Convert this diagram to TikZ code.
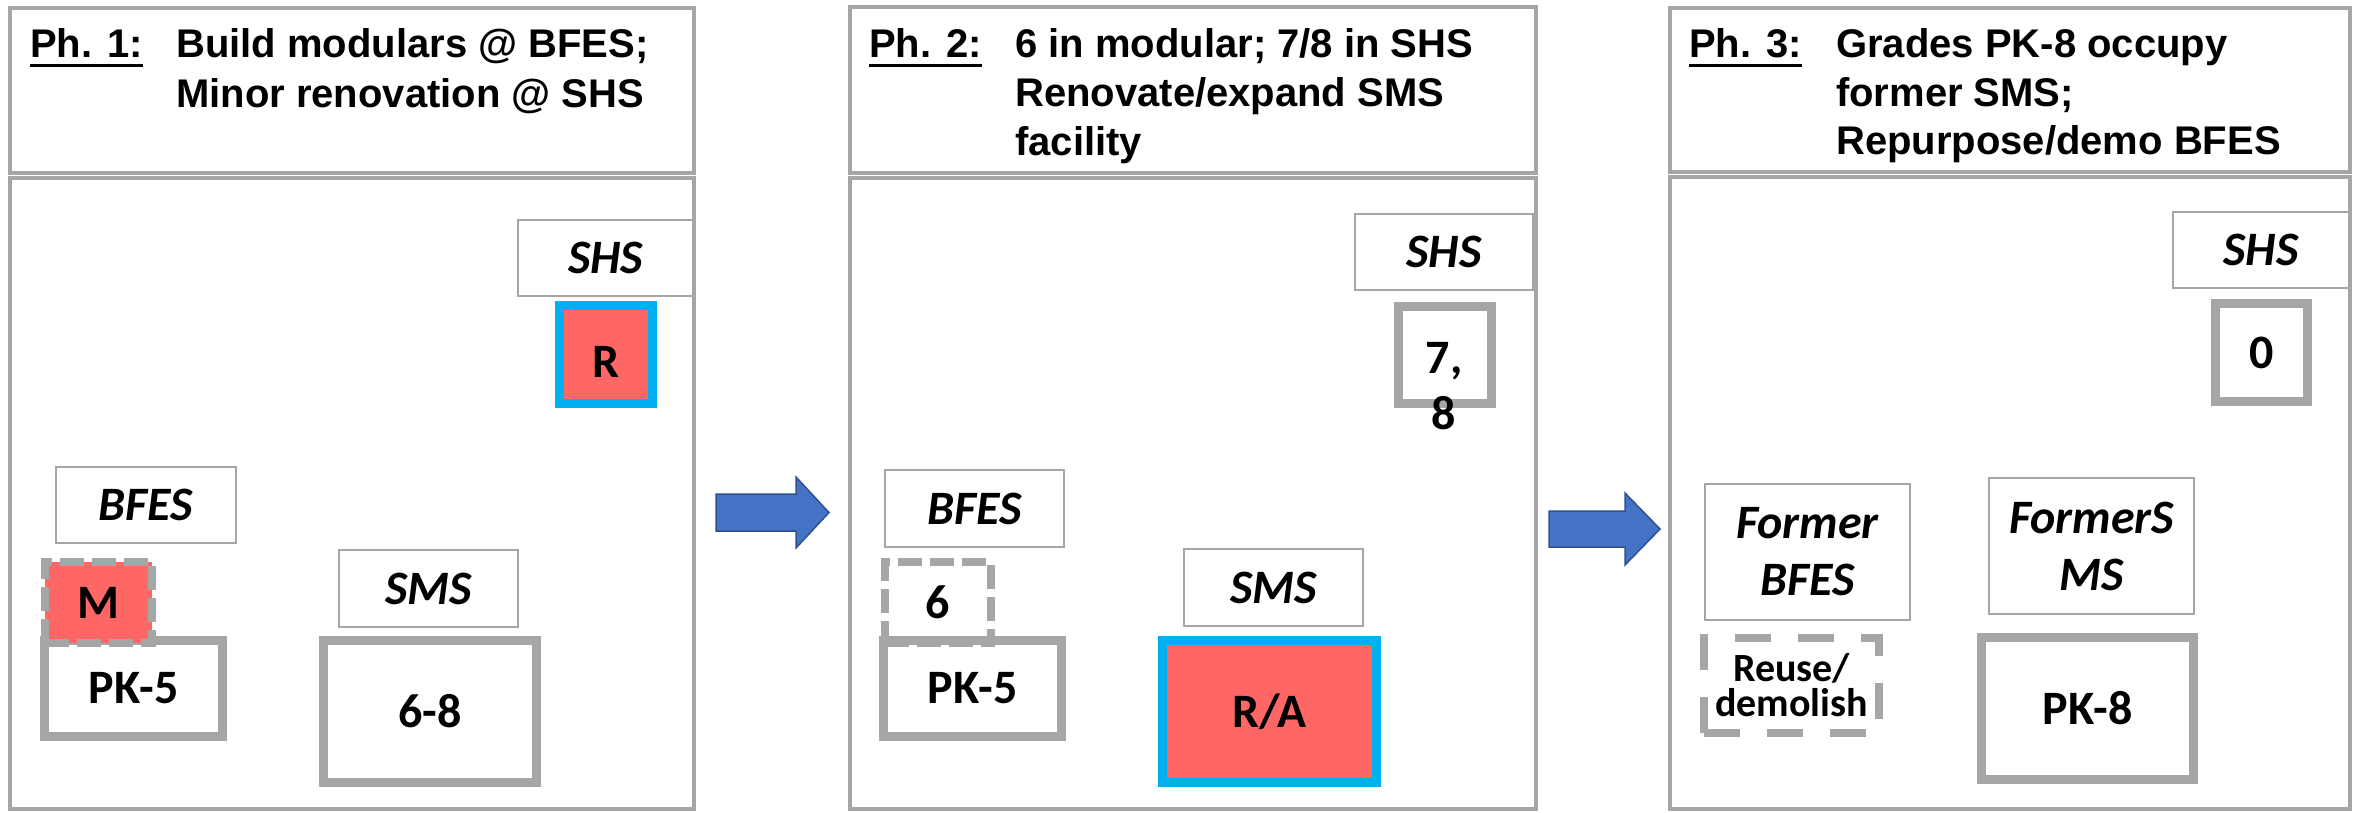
\documentclass[tikz,border=0pt]{standalone}
\usepackage{fontspec}
\setmainfont{Liberation Sans}
\newfontfamily\labfont{Carlito}
\definecolor{frame}{HTML}{A6A6A6}
\definecolor{salmon}{HTML}{FF6666}
\definecolor{cyanedge}{HTML}{00B0F0}
\definecolor{arrowfill}{HTML}{4472C4}
\definecolor{arrowedge}{HTML}{2F528F}

\begin{document}
\begin{tikzpicture}[x=1pt,y=-1pt,
  panelbox/.style={draw=frame,line width=4pt,inner sep=0pt},
  headtxt/.style={anchor=base west,inner sep=0pt,font=\fontsize{40}{50}\selectfont\bfseries},
  sitelabel/.style={draw=frame,line width=2.5pt,fill=white,inner sep=0pt,align=center,
    font=\labfont\fontsize{48}{57}\selectfont\bfseries\itshape},
  grade/.style={draw=frame,line width=9pt,fill=white,inner sep=0pt,align=center,
    font=\labfont\fontsize{48}{56}\selectfont\bfseries},
  renov/.style={grade,draw=cyanedge,fill=salmon},
  modular/.style={grade,line width=8pt,dash pattern=on 24pt off 8pt},
  reuse/.style={grade,line width=8pt,dash pattern=on 36pt off 27pt,
    font=\labfont\fontsize{40}{35}\selectfont\bfseries},
  blockarrow/.style={fill=arrowfill,draw=arrowedge,line width=1.5pt},
  uline/.style={line width=3pt}
]
\useasboundingbox[fill=white] (0,0) rectangle (2359,812);

% ---------- Phase 1 ----------
\node[panelbox,minimum width=684,minimum height=165] (h1) at (352,90.5) {};
\node[panelbox,minimum width=684,minimum height=631] (b1) at (352,493.5) {};
\node[headtxt] (ph1) at (30,57) {Ph. 1:};
\draw[uline] ([yshift=-8pt]ph1.base west) -- ([yshift=-8pt]ph1.base east);
\node[headtxt] (t1a) at (176,57) {Build modulars @ BFES;};
\node[headtxt] (t1b) at (176,107) {Minor renovation @ SHS};

\node[sitelabel,minimum width=175,minimum height=76] (shs1) at (605.5,258) {SHS};
\node[renov,minimum width=93,minimum height=98,text height=45pt] (r1) at (606,354.5) {R};
\node[sitelabel,minimum width=180,minimum height=76] (bfes1) at (146,505) {BFES};
\node[grade,minimum width=178,minimum height=96] (pk1) at (133.5,688.5) {PK-5};
\node[modular,fill=salmon,minimum width=107,minimum height=81] (m1) at (98.5,602.5) {M};
\node[sitelabel,minimum width=179,minimum height=77] (sms1) at (428.5,588.5) {SMS};
\node[grade,minimum width=213,minimum height=142] (g1) at (430,711.5) {6-8};

% ---------- arrow 1 -> 2 ----------
\coordinate (a1) at (716,512.5);
\path[blockarrow] (a1) ++(0,-18.5) -- ++(80,0) -- ++(0,-17) -- ++(33,35.5)
  -- ++(-33,35.5) -- ++(0,-17) -- ++(-80,0) -- cycle;

% ---------- Phase 2 ----------
\node[panelbox,minimum width=686,minimum height=166] (h2) at (1193,90) {};
\node[panelbox,minimum width=686,minimum height=631] (b2) at (1193,493.5) {};
\node[headtxt] (ph2) at (869,57) {Ph. 2:};
\draw[uline] ([yshift=-8pt]ph2.base west) -- ([yshift=-8pt]ph2.base east);
\node[headtxt] (t2a) at (1015,57) {6 in modular; 7/8 in SHS};
\node[headtxt] (t2b) at (1015,106) {Renovate/expand SMS};
\node[headtxt] (t2c) at (1015,155) {facility};

\node[sitelabel,minimum width=178,minimum height=76] (shs2) at (1444,252) {SHS};
\node[grade,minimum width=93,minimum height=97] (g2) at (1445,355) {};
\node[anchor=north,inner sep=0pt,align=center,
  font=\labfont\fontsize{48}{56}\selectfont\bfseries] (g2t) at (1444,342) {7,\\8};
\node[sitelabel,minimum width=179,minimum height=77] (bfes2) at (974.5,508.5) {BFES};
\node[grade,minimum width=178,minimum height=96] (pk2) at (972.5,688.5) {PK-5};
\node[modular,fill=none,minimum width=106,minimum height=81] (m2) at (938,602.5) {6};
\node[sitelabel,minimum width=179,minimum height=77] (sms2) at (1273.5,587.5) {SMS};
\node[renov,minimum width=214,minimum height=142] (ra2) at (1269.5,711.5) {R/A};

% ---------- arrow 2 -> 3 ----------
\coordinate (a2) at (1549,529);
\path[blockarrow] (a2) ++(0,-18) -- ++(76,0) -- ++(0,-18) -- ++(35,36)
  -- ++(-35,36) -- ++(0,-18) -- ++(-76,0) -- cycle;

% ---------- Phase 3 ----------
\node[panelbox,minimum width=680,minimum height=164] (h3) at (2010,90) {};
\node[panelbox,minimum width=680,minimum height=632] (b3) at (2010,493) {};
\node[headtxt] (ph3) at (1689,57) {Ph. 3:};
\draw[uline] ([yshift=-8pt]ph3.base west) -- ([yshift=-8pt]ph3.base east);
\node[headtxt] (t3a) at (1836,57) {Grades PK-8 occupy};
\node[headtxt] (t3b) at (1836,106) {former SMS;};
\node[headtxt] (t3c) at (1836,154) {Repurpose/demo BFES};

\node[sitelabel,minimum width=176,minimum height=76] (shs3) at (2261,250) {SHS};
\node[grade,minimum width=92,minimum height=98] (g3) at (2261.5,352.5) {0};
\node[sitelabel,minimum width=205,minimum height=136] (bfes3) at (1807.5,552) {Former\\BFES};
\node[reuse,fill=none,minimum width=175,minimum height=95] (re3) at (1791.5,685.5) {Reuse/\\demolish};
\node[sitelabel,minimum width=205,minimum height=136] (sms3) at (2091.5,546) {FormerS\\MS};
\node[grade,minimum width=212,minimum height=142] (pk3) at (2087.5,708.5) {PK-8};
\end{tikzpicture}
\end{document}
